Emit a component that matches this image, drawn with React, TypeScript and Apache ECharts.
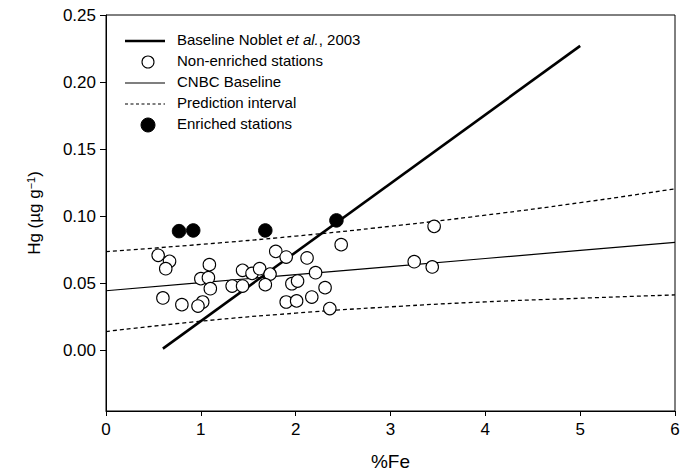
import React, { useEffect, useRef } from "react";
import * as echarts from "echarts";

// Non-enriched stations (%Fe, Hg µg/g)
const nonEnrichedFe = [0.55, 0.67, 0.63, 1.09, 1.0, 1.08, 1.1, 0.6, 0.8, 1.02, 0.97, 1.33, 1.44, 1.44, 1.54, 1.62, 1.73, 1.68, 1.79, 1.9, 2.12, 2.21, 1.96, 2.02, 1.9, 2.01, 2.17, 2.31, 2.36, 2.48, 3.46, 3.25, 3.44];
const nonEnrichedHg = [0.071, 0.0665, 0.061, 0.064, 0.0536, 0.0543, 0.0461, 0.0392, 0.0342, 0.0362, 0.0332, 0.0481, 0.0598, 0.0481, 0.0575, 0.061, 0.057, 0.0491, 0.0739, 0.0697, 0.069, 0.058, 0.0498, 0.0518, 0.0362, 0.037, 0.0399, 0.0469, 0.0313, 0.0789, 0.0925, 0.0662, 0.0623];

// Enriched stations
const enrichedFe = [0.77, 0.92, 1.68, 2.43];
const enrichedHg = [0.089, 0.0895, 0.0895, 0.097];

// CNBC baseline and prediction interval (read at integer %Fe)
const lineFe = [0, 1, 2, 3, 4, 5, 6];
const cnbcHg = [0.0446, 0.0506, 0.0566, 0.0626, 0.0686, 0.0746, 0.0806];
const upperHg = [0.0737, 0.0791, 0.0853, 0.0926, 0.1009, 0.1102, 0.1205];
const lowerHg = [0.0142, 0.0219, 0.0279, 0.0326, 0.0363, 0.039, 0.0415];

// Baseline Noblet et al., 2003
const nobletFe = [0.6, 5.0];
const nobletHg = [0.0015, 0.227];

const yTicks = [0, 0.05, 0.1, 0.15, 0.2, 0.25];

const F = "'Liberation Sans Narrow', 'Arial Narrow', 'Liberation Sans', Arial, sans-serif";

const zip = (xs: number[], ys: number[]) => xs.map((x, i) => [x, ys[i]]);

export default function App() {
  const ref = useRef<HTMLDivElement>(null);
  useEffect(() => {
    if (!ref.current) return;
    const chart = echarts.init(ref.current, null, { renderer: "svg" });
    const lx = 125, lx2 = 165, tx = 177;
    const ly = [41, 62, 83, 104, 125];
    const legendText = (y: number, t: string) => ({
      type: "text",
      left: tx,
      top: y - 9,
      style: { text: t, font: `15px ${F}`, fill: "#000", rich: { n: { font: `15px ${F}`, fill: "#000" }, i: { font: `italic 15px ${F}`, fill: "#000" } } },
      z: 100,
    });
    chart.setOption({
      animation: false,
      backgroundColor: "#fff",
      grid: { left: 106, right: 14, top: 15, bottom: 64, show: true, borderColor: "#000", borderWidth: 1 },
      xAxis: {
        type: "value",
        min: 0,
        max: 6,
        interval: 1,
        name: "%Fe",
        nameLocation: "middle",
        nameGap: 41,
        nameTextStyle: { fontFamily: F, fontSize: 19, color: "#000" },
        axisLine: { onZero: false, lineStyle: { color: "#000", width: 1 } },
        axisTick: { length: 5, lineStyle: { color: "#000" } },
        axisLabel: { fontFamily: F, fontSize: 17, color: "#000", margin: 10 },
        splitLine: { show: false },
      },
      yAxis: {
        type: "value",
        min: -0.045,
        max: 0.25,
        name: "Hg (µg g{sup|−1})",
        nameLocation: "middle",
        nameRotate: 90,
        nameGap: 62,
        nameTextStyle: {
          fontFamily: F,
          fontSize: 17,
          color: "#000",
          rich: { sup: { fontFamily: F, fontSize: 11, color: "#000", verticalAlign: "top", padding: [0, 0, 8, 0] } },
        },
        axisLine: { show: true, onZero: false, lineStyle: { color: "#000", width: 1 } },
        axisTick: { show: true, length: 6, customValues: yTicks, lineStyle: { color: "#000" } },
        axisLabel: {
          fontFamily: F,
          fontSize: 17,
          color: "#000",
          margin: 10,
          customValues: yTicks,
          formatter: (v: number) => v.toFixed(2),
        },
        splitLine: { show: false },
      },
      series: [
        {
          type: "line",
          data: zip(nobletFe, nobletHg),
          symbol: "none",
          lineStyle: { color: "#000", width: 2.6 },
          z: 3,
        },
        {
          type: "line",
          data: zip(lineFe, cnbcHg),
          symbol: "none",
          lineStyle: { color: "#000", width: 1.2 },
          z: 2,
        },
        {
          type: "line",
          data: zip(lineFe, upperHg),
          symbol: "none",
          smooth: true,
          lineStyle: { color: "#000", width: 1.3, type: [4, 3] },
          z: 2,
        },
        {
          type: "line",
          data: zip(lineFe, lowerHg),
          symbol: "none",
          smooth: true,
          lineStyle: { color: "#000", width: 1.3, type: [4, 3] },
          z: 2,
        },
        {
          type: "scatter",
          data: zip(nonEnrichedFe, nonEnrichedHg),
          symbol: "circle",
          symbolSize: 12.5,
          itemStyle: { color: "#fff", borderColor: "#000", borderWidth: 1.1, opacity: 1 },
          z: 5,
        },
        {
          type: "scatter",
          data: zip(enrichedFe, enrichedHg),
          symbol: "circle",
          symbolSize: 13.5,
          itemStyle: { color: "#000", borderColor: "#000", borderWidth: 1, opacity: 1 },
          z: 6,
        },
      ],
      graphic: [
        { type: "line", shape: { x1: lx, y1: ly[0], x2: lx2, y2: ly[0] }, style: { stroke: "#000", lineWidth: 2.6 }, z: 100 },
        { type: "circle", shape: { cx: 148, cy: ly[1], r: 6 }, style: { fill: "#fff", stroke: "#000", lineWidth: 1.1 }, z: 100 },
        { type: "line", shape: { x1: lx, y1: ly[2], x2: lx2, y2: ly[2] }, style: { stroke: "#000", lineWidth: 1.2 }, z: 100 },
        { type: "line", shape: { x1: lx, y1: ly[3], x2: lx2, y2: ly[3] }, style: { stroke: "#000", lineWidth: 1.2, lineDash: [3, 2.5] }, z: 100 },
        { type: "circle", shape: { cx: 148, cy: ly[4], r: 7 }, style: { fill: "#000", stroke: "#000", lineWidth: 1 }, z: 100 },
        legendText(ly[0], "{n|Baseline Noblet }{i|et al.}{n|, 2003}"),
        legendText(ly[1], "Non-enriched stations"),
        legendText(ly[2], "CNBC Baseline"),
        legendText(ly[3], "Prediction interval"),
        legendText(ly[4], "Enriched stations"),
      ],
    });
    return () => chart.dispose();
  }, []);
  return <div ref={ref} style={{ position: "fixed", left: 0, top: 0, width: 689, height: 476 }} />;
}
